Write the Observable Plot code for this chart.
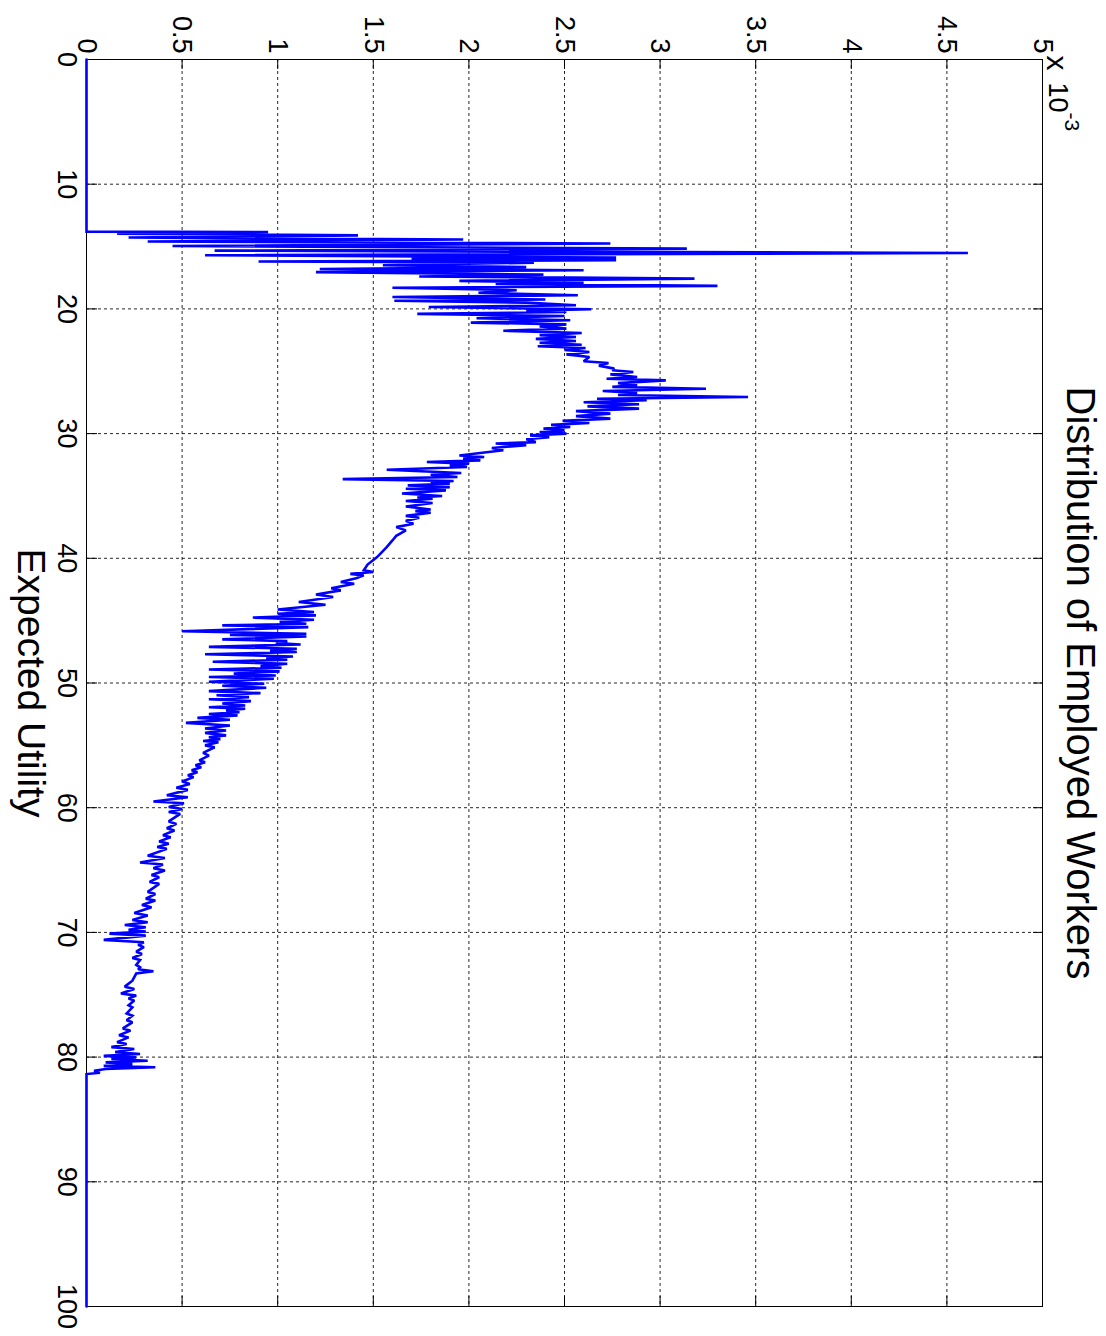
<!DOCTYPE html>
<html>
<head>
<meta charset="utf-8">
<script src="https://cdn.jsdelivr.net/npm/d3@7"></script>
<script src="https://cdn.jsdelivr.net/npm/@observablehq/plot@0.6"></script>
<style>
html, body { margin: 0; padding: 0; background: #fff; }
#wrap { position: relative; width: 1106px; height: 1336px; overflow: hidden; background: #fff; }
#wrap svg {
  position: absolute; left: 0; top: 0;
  width: 1336px !important; height: 1106px !important; max-width: none !important;
  transform-origin: 0 0; transform: translate(1106px, 0) rotate(90deg);
}
</style>
</head>
<body>
<div id="wrap"></div>
<script>
// Texts
const titleText = "Distribution of Employed Workers";
const xLabelText = "Expected Utility";
const expBase = "x";
const expTen = "10";
const expPow = "-3";

// Tick values
const xTicks = [0, 10, 20, 30, 40, 50, 60, 70, 80, 90, 100];
const yTicks = [0, 0.5, 1, 1.5, 2, 2.5, 3, 3.5, 4, 4.5, 5];

// Data: [expected utility, density (x 10^-3)]
const lead = [[0, 0], [13.8, 0]];
const spikes = [
  [13.83, 0.95], [13.96, 0.16], [14.10, 1.42], [14.28, 0.22], [14.44, 1.97], [14.60, 0.32],
  [14.76, 2.74], [14.95, 0.45], [15.17, 3.14], [15.33, 0.67], [15.52, 4.61], [15.70, 0.62],
  [15.89, 2.77], [16.00, 1.70], [16.10, 2.77], [16.20, 0.90], [16.29, 2.34], [16.50, 1.55],
  [16.65, 2.30], [16.80, 1.22], [16.90, 2.60], [17.05, 1.20], [17.25, 2.39], [17.40, 1.74],
  [17.57, 3.18], [17.75, 1.95], [17.90, 2.60], [18.00, 2.14], [18.15, 3.30], [18.30, 1.60],
  [18.50, 2.25], [18.70, 2.05], [18.90, 2.57], [19.05, 1.60], [19.25, 2.40], [19.35, 1.61],
  [19.50, 2.30], [19.71, 2.56], [19.85, 1.79], [20.03, 2.64], [20.15, 2.30], [20.25, 2.51],
  [20.40, 1.73], [20.57, 2.50], [20.75, 2.04], [20.91, 2.53], [21.10, 2.01], [21.24, 2.51],
  [21.40, 2.37], [21.58, 2.51], [21.75, 2.18], [21.93, 2.59], [22.10, 2.37], [22.25, 2.56],
  [22.40, 2.35], [22.57, 2.56], [22.72, 2.37], [22.87, 2.59], [23.00, 2.36], [23.13, 2.61],
  [23.30, 2.50], [23.46, 2.63], [23.65, 2.51], [23.86, 2.63]
];
const hump = [
  [24.20, 2.60], [24.34, 2.73], [24.55, 2.68], [24.79, 2.76], [24.92, 2.75], [25.06, 2.86],
  [25.25, 2.74], [25.46, 2.88], [25.60, 2.72], [25.73, 3.03], [25.95, 2.78], [26.13, 2.88],
  [26.25, 2.75], [26.40, 3.24], [26.58, 2.70], [26.75, 2.88], [26.90, 2.78], [27.07, 3.46],
  [27.20, 2.67], [27.33, 2.93], [27.48, 2.60], [27.65, 2.89], [27.82, 2.62], [28.00, 2.89],
  [28.20, 2.56], [28.40, 2.74], [28.60, 2.56], [28.80, 2.74], [28.98, 2.49], [29.15, 2.63],
  [29.30, 2.43], [29.47, 2.53], [29.60, 2.39], [29.74, 2.50], [29.87, 2.37], [30.00, 2.51],
  [30.14, 2.32], [30.28, 2.42], [30.45, 2.30], [30.68, 2.35], [30.80, 2.14], [30.94, 2.30],
  [31.15, 2.12], [31.34, 2.18], [31.75, 1.95], [31.88, 2.08], [32.00, 1.97], [32.15, 2.06],
  [32.28, 1.78], [32.41, 2.00], [32.55, 1.90], [32.68, 1.99], [32.90, 1.57], [33.16, 1.96],
  [33.30, 1.80], [33.48, 1.94], [33.65, 1.34], [33.80, 1.92], [33.92, 1.80], [34.02, 1.90],
  [34.15, 1.68], [34.29, 1.90], [34.42, 1.67], [34.55, 1.88], [34.80, 1.65], [35.01, 1.86],
  [35.12, 1.73], [35.22, 1.81], [35.40, 1.67], [35.57, 1.81], [35.85, 1.67], [36.08, 1.80],
  [36.22, 1.72], [36.35, 1.80], [36.60, 1.67], [36.75, 1.74], [37.00, 1.67], [37.23, 1.71],
  [37.50, 1.62], [37.76, 1.67], [38.20, 1.62], [38.57, 1.60], [39.10, 1.57], [39.90, 1.52],
  [40.50, 1.47], [40.97, 1.45]
];
const decline = [
  [41.10, 1.50], [41.25, 1.38], [41.37, 1.45], [41.60, 1.41], [41.90, 1.33], [42.04, 1.40],
  [42.40, 1.28], [42.57, 1.33], [42.90, 1.20], [43.11, 1.29], [43.50, 1.11], [43.72, 1.25],
  [44.10, 1.00], [44.31, 1.19], [44.45, 1.00], [44.58, 1.20], [44.75, 0.87], [44.93, 1.19],
  [45.10, 1.01], [45.25, 1.15], [45.38, 0.71], [45.52, 1.16], [45.85, 0.50], [46.05, 1.15],
  [46.15, 0.75], [46.27, 1.15], [46.50, 0.71], [46.64, 1.05], [46.80, 0.99], [46.91, 1.12],
  [47.10, 0.64], [47.25, 1.10], [47.40, 0.96], [47.52, 1.10], [47.70, 0.62], [47.87, 1.08],
  [48.00, 0.94], [48.14, 1.05], [48.30, 0.66], [48.46, 1.05], [48.65, 0.91], [48.78, 1.02],
  [48.92, 0.64], [49.07, 1.01], [49.25, 0.77], [49.40, 0.99], [49.52, 0.64], [49.66, 0.98],
  [49.90, 0.64], [50.06, 0.93], [50.22, 0.71], [50.38, 0.94], [50.65, 0.64], [50.81, 0.91],
  [50.98, 0.68], [51.13, 0.85], [51.30, 0.64], [51.45, 0.86], [51.65, 0.71], [51.80, 0.83],
  [51.95, 0.64], [52.07, 0.83], [52.20, 0.73], [52.34, 0.80], [52.48, 0.64], [52.60, 0.79],
  [52.80, 0.58], [52.95, 0.75], [53.20, 0.52], [53.41, 0.75], [53.65, 0.62], [53.81, 0.73],
  [54.00, 0.62], [54.20, 0.73], [54.35, 0.64], [54.50, 0.70], [54.65, 0.61], [54.75, 0.69],
  [55.00, 0.62], [55.15, 0.67], [55.60, 0.61], [55.82, 0.64], [56.20, 0.59], [56.35, 0.62],
  [56.60, 0.57], [56.75, 0.60], [57.00, 0.55], [57.15, 0.58], [57.40, 0.53], [57.55, 0.56],
  [57.90, 0.50], [58.09, 0.54], [58.40, 0.47], [58.57, 0.53], [59.00, 0.42], [59.16, 0.53],
  [59.50, 0.35], [59.64, 0.51], [59.95, 0.43], [60.10, 0.50], [60.35, 0.43], [60.50, 0.49]
];
const tail = [
  [61.10, 0.43], [61.30, 0.47], [61.65, 0.42], [61.83, 0.46], [62.20, 0.40], [62.37, 0.44],
  [62.70, 0.38], [62.90, 0.43], [63.15, 0.37], [63.30, 0.42], [63.85, 0.32], [64.03, 0.41],
  [64.40, 0.28], [64.56, 0.40], [64.85, 0.35], [65.04, 0.41], [65.40, 0.34], [65.58, 0.38],
  [65.95, 0.33], [66.11, 0.38], [66.75, 0.32], [66.92, 0.36], [67.30, 0.31], [67.45, 0.36],
  [67.80, 0.29], [67.98, 0.34], [68.45, 0.25], [68.65, 0.32], [69.00, 0.24], [69.19, 0.32],
  [69.40, 0.20], [69.59, 0.31], [69.80, 0.22], [69.94, 0.31], [70.10, 0.12], [70.26, 0.31],
  [70.60, 0.09], [70.79, 0.30], [71.00, 0.27], [71.19, 0.30], [71.55, 0.26], [71.73, 0.29],
  [72.05, 0.24], [72.21, 0.28], [72.60, 0.26], [72.80, 0.28], [72.95, 0.27], [73.12, 0.35],
  [73.30, 0.26], [73.87, 0.24], [74.35, 0.20], [74.54, 0.25], [74.90, 0.18], [75.07, 0.26],
  [75.30, 0.22], [75.47, 0.25], [75.85, 0.22], [76.01, 0.24], [76.50, 0.21], [76.68, 0.24],
  [77.05, 0.21], [77.21, 0.24], [77.70, 0.19], [77.88, 0.23], [78.25, 0.17], [78.42, 0.22],
  [78.80, 0.16], [78.95, 0.21], [79.20, 0.13], [79.35, 0.25], [79.60, 0.15], [79.75, 0.28],
  [79.90, 0.09], [80.02, 0.26], [80.15, 0.13], [80.29, 0.32], [80.42, 0.10], [80.56, 0.24],
  [80.70, 0.09], [80.82, 0.36], [80.95, 0.10], [81.09, 0.04], [81.25, 0.07], [81.36, 0]
];
const zeroTail = [[100, 0]];

const series = [...lead, ...spikes, ...hump, ...decline, ...tail, ...zeroTail]
  .map(([u, d]) => ({u, d}));

// Layout (unrotated figure; the page rotates it 90° clockwise like the reference)
const W = 1336, H = 1106;
const mL = 59, mR = 30, mT = 63, mB = 87;
const frameW = W - mL - mR, frameH = H - mT - mB;
const tickLen = 10;
const fmt = d => String(d);

const chart = Plot.plot({
  width: W,
  height: H,
  marginLeft: mL,
  marginRight: mR,
  marginTop: mT,
  marginBottom: mB,
  style: {
    fontFamily: '"Liberation Sans", Arial, Helvetica, sans-serif',
    fontSize: "27px",
    color: "black",
    background: "white"
  },
  x: {domain: [0, 100]},
  y: {domain: [0, 5]},
  marks: [
    Plot.gridX(xTicks, {stroke: "black", strokeOpacity: 0.85, strokeDasharray: "3,3"}),
    Plot.gridY(yTicks, {stroke: "black", strokeOpacity: 0.85, strokeDasharray: "3,3"}),
    Plot.tickX(xTicks, {x: d => d, insetTop: frameH - tickLen, stroke: "black"}),
    Plot.tickX(xTicks, {x: d => d, insetBottom: frameH - tickLen, stroke: "black"}),
    Plot.tickY(yTicks, {y: d => d, insetRight: frameW - tickLen, stroke: "black"}),
    Plot.tickY(yTicks, {y: d => d, insetLeft: frameW - tickLen, stroke: "black"}),
    Plot.frame({stroke: "black"}),
    Plot.line(series, {x: "u", y: "d", stroke: "#0000ff", strokeWidth: 2.6, strokeLinejoin: "miter", strokeMiterlimit: 2}),
    Plot.axisX(xTicks, {tickSize: 0, tickPadding: 9, tickFormat: fmt, label: null, fontSize: 27}),
    Plot.axisY(yTicks, {tickSize: 0, tickPadding: 6, tickFormat: fmt, label: null, fontSize: 27}),
    Plot.text([titleText], {text: d => d, frameAnchor: "top", dy: -53, fontSize: 40}),
    Plot.text([xLabelText], {text: d => d, frameAnchor: "bottom", dy: 69, fontSize: 39}),
    Plot.text([expBase], {text: d => d, frameAnchor: "top-left", textAnchor: "start", dx: -4, dy: -26, fontSize: 30}),
    Plot.text([expTen], {text: d => d, frameAnchor: "top-left", textAnchor: "start", dx: 23, dy: -26, fontSize: 27}),
    Plot.text([expPow], {text: d => d, frameAnchor: "top-left", textAnchor: "start", dx: 53, dy: -37, fontSize: 21})
  ]
});

document.getElementById("wrap").appendChild(chart);
</script>
</body>
</html>
